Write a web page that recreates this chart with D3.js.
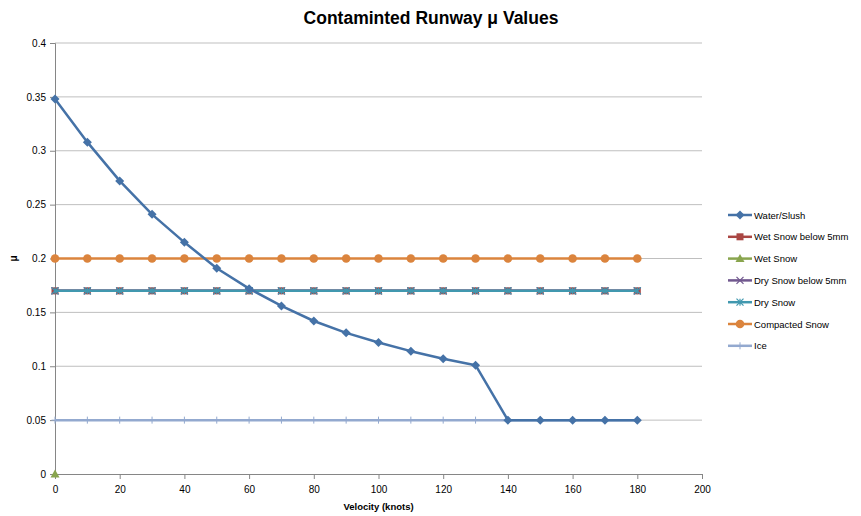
<!DOCTYPE html>
<html>
<head>
<meta charset="utf-8">
<script src="https://cdn.jsdelivr.net/npm/d3@7"></script>
<style>
  body { margin: 0; background: #fff; }
  svg { font-family: "Liberation Sans", Arial, sans-serif; }
</style>
</head>
<body>
<svg id="chart" width="861" height="516"></svg>
<script>
const width = 861;
const height = 516;
const margin = { top: 43, right: 157, bottom: 42, left: 55 };

// data
const velocity = [0, 10, 20, 30, 40, 50, 60, 70, 80, 90, 100, 110, 120, 130, 140, 150, 160, 170, 180];
const waterSlush = [0.348, 0.308, 0.272, 0.241, 0.215, 0.191, 0.172, 0.156, 0.142, 0.131, 0.122, 0.114, 0.107, 0.101, 0.05, 0.05, 0.05, 0.05, 0.05];
const wetSnowBelow5 = velocity.map(() => 0.17);
const wetSnow = [0];
const drySnowBelow5 = velocity.map(() => 0.17);
const drySnow = velocity.map(() => 0.17);
const compactedSnow = velocity.map(() => 0.2);
const ice = velocity.map(() => 0.05);

const xTicks = [0, 20, 40, 60, 80, 100, 120, 140, 160, 180, 200];
const yTicks = [0, 0.05, 0.1, 0.15, 0.2, 0.25, 0.3, 0.35, 0.4];

const series = [
  { name: "Water/Slush", values: waterSlush, color: "#4572A7", marker: "diamond" },
  { name: "Wet Snow below 5mm", values: wetSnowBelow5, color: "#AA4643", marker: "square" },
  { name: "Wet Snow", values: wetSnow, color: "#89A54E", marker: "triangle" },
  { name: "Dry Snow below 5mm", values: drySnowBelow5, color: "#71588F", marker: "x" },
  { name: "Dry Snow", values: drySnow, color: "#4198AF", marker: "star" },
  { name: "Compacted Snow", values: compactedSnow, color: "#DB843D", marker: "circle" },
  { name: "Ice", values: ice, color: "#93A9CF", marker: "plus" }
];

const svg = d3.select("#chart");

const x = d3.scaleLinear().domain([0, 200]).range([margin.left, width - margin.right - 2]);
const y = d3.scaleLinear().domain([0, 0.4]).range([height - margin.bottom, margin.top]);

// gridlines
svg.append("g")
  .selectAll("line")
  .data(yTicks.slice(1))
  .enter()
  .append("line")
  .attr("x1", x(0))
  .attr("x2", x(200))
  .attr("y1", d => y(d))
  .attr("y2", d => y(d))
  .attr("stroke", "#bfbfbf")
  .attr("stroke-width", 1);

// axes
const yAxis = d3.axisLeft(y).tickValues(yTicks).tickSize(5).tickFormat(d => d3.format("")(+d.toFixed(2)));
const xAxis = d3.axisBottom(x).tickValues(xTicks).tickSize(5).tickFormat(d3.format("d"));

const gy = svg.append("g")
  .attr("transform", "translate(" + x(0) + ",0)")
  .call(yAxis);
const gx = svg.append("g")
  .attr("transform", "translate(0," + y(0) + ")")
  .call(xAxis);

[gx, gy].forEach(g => {
  g.select(".domain").attr("stroke", "#868686");
  g.selectAll(".tick line").attr("stroke", "#868686");
  g.selectAll("text").attr("fill", "#000").style("font-size", "10px");
});
gy.selectAll("text").attr("x", -9);
gx.selectAll("text").attr("y", 12);

// marker drawing
function drawMarker(g, type, color, size) {
  const s = size;
  if (type === "diamond") {
    const d = s + 1;
    g.append("path").attr("d", `M0,${-d}L${d},0L0,${d}L${-d},0Z`).attr("fill", color);
  } else if (type === "square") {
    g.append("rect").attr("x", -s).attr("y", -s).attr("width", 2 * s).attr("height", 2 * s).attr("fill", color);
  } else if (type === "triangle") {
    g.append("path").attr("d", `M0,${-s - 1}L${s + 1},${s}L${-s - 1},${s}Z`).attr("fill", color);
  } else if (type === "circle") {
    g.append("circle").attr("r", s + 0.8).attr("fill", color);
  } else if (type === "x") {
    g.append("path").attr("d", `M${-s},${-s}L${s},${s}M${-s},${s}L${s},${-s}`)
      .attr("stroke", color).attr("stroke-width", 1.2);
  } else if (type === "star") {
    g.append("path").attr("d", `M${-s},${-s}L${s},${s}M${-s},${s}L${s},${-s}M0,${-s}L0,${s}`)
      .attr("stroke", color).attr("stroke-width", 1.2);
  } else if (type === "plus") {
    g.append("path").attr("d", `M${-s},0L${s},0M0,${-s}L0,${s}`)
      .attr("stroke", color).attr("stroke-width", 1);
  }
}

const line = d3.line()
  .x((d, i) => x(velocity[i]))
  .y(d => y(d));

// draw order so that the water/slush line ends up on top like the original
const drawOrder = [6, 5, 1, 3, 4, 2, 0];
drawOrder.forEach(idx => {
  const s = series[idx];
  const g = svg.append("g").attr("class", "series");
  if (s.values.length > 1) {
    g.append("path")
      .datum(s.values)
      .attr("d", line)
      .attr("fill", "none")
      .attr("stroke", s.color)
      .attr("stroke-width", 2.5)
      .attr("stroke-linejoin", "round");
  }
  g.selectAll(".mk")
    .data(s.values)
    .enter()
    .append("g")
    .attr("class", "mk")
    .attr("transform", (d, i) => "translate(" + x(velocity[i]) + "," + y(d) + ")")
    .each(function () { drawMarker(d3.select(this), s.marker, s.color, 3.5); });
});

// title and axis labels
svg.append("text")
  .attr("x", 431)
  .attr("y", 24)
  .attr("text-anchor", "middle")
  .style("font-size", "17.5px")
  .style("font-weight", "bold")
  .text("Contaminted Runway μ Values");

svg.append("text")
  .attr("transform", "translate(17," + y(0.2) + ") rotate(-90)")
  .attr("text-anchor", "middle")
  .style("font-size", "10px")
  .style("font-weight", "bold")
  .text("μ");

svg.append("text")
  .attr("x", x(100))
  .attr("y", 510)
  .attr("text-anchor", "middle")
  .style("font-size", "9.5px")
  .style("font-weight", "bold")
  .text("Velocity (knots)");

// legend
const legend = svg.append("g").attr("transform", "translate(728,215)");
series.forEach((s, i) => {
  const row = legend.append("g").attr("transform", "translate(0," + i * 21.8 + ")");
  row.append("line").attr("x1", 0).attr("x2", 24).attr("y1", 0).attr("y2", 0)
    .attr("stroke", s.color).attr("stroke-width", 2.5);
  const m = row.append("g").attr("transform", "translate(12,0)");
  drawMarker(m, s.marker, s.color, 3.5);
  row.append("text")
    .attr("x", 26)
    .attr("y", 3.5)
    .style("font-size", "9.5px")
    .text(s.name);
});
</script>
</body>
</html>
